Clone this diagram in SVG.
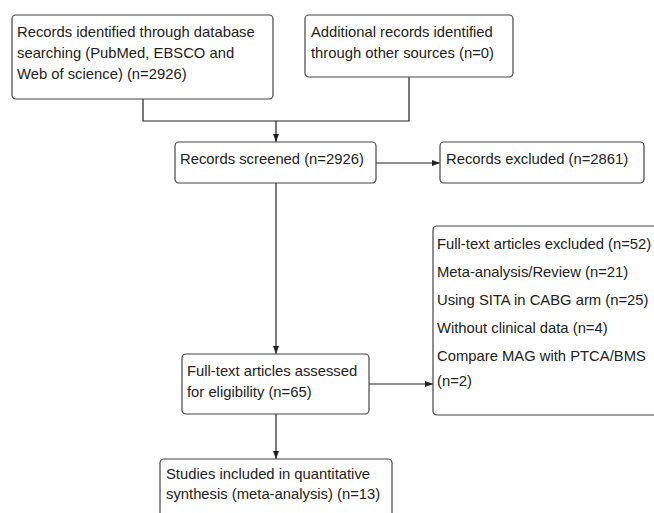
<svg xmlns="http://www.w3.org/2000/svg" width="654" height="513" viewBox="0 0 654 513">
<defs>
<marker id="ah" viewBox="0 0 8 8" refX="8" refY="4" markerWidth="8" markerHeight="8" markerUnits="userSpaceOnUse" orient="auto">
<path d="M0,1 L8,4 L0,7 Z" fill="#222"/>
</marker>
<style>
.box{fill:#fff;stroke:#444;stroke-width:1.2}
.t{font-family:"Liberation Sans",Arial,sans-serif;font-size:14.8px;fill:#222}
.c{fill:none;stroke:#222;stroke-width:1.2}
</style>
</defs>
<rect width="654" height="513" fill="#fff"/>
<g id="connectors">
<polyline class="c" points="143,99 143,121 409,121 409,77"/>
<line class="c" x1="276" y1="121" x2="276" y2="142" marker-end="url(#ah)"/>
<line class="c" x1="376" y1="163" x2="440" y2="163" marker-end="url(#ah)"/>
<line class="c" x1="276" y1="183" x2="276" y2="354" marker-end="url(#ah)"/>
<line class="c" x1="369" y1="384" x2="433" y2="384" marker-end="url(#ah)"/>
<line class="c" x1="276" y1="414" x2="276" y2="459" marker-end="url(#ah)"/>
</g>
<g id="n1">
<rect class="box" x="12" y="15" width="261" height="84" rx="4"/>
<text class="t" x="17" y="37">Records identified through database</text>
<text class="t" x="17" y="58">searching (PubMed, EBSCO and</text>
<text class="t" x="17" y="79">Web of science) (n=2926)</text>
</g>
<g id="n2">
<rect class="box" x="305" y="15" width="208" height="62" rx="4"/>
<text class="t" x="311" y="37">Additional records identified</text>
<text class="t" x="311" y="58">through other sources (n=0)</text>
</g>
<g id="n3">
<rect class="box" x="175" y="142" width="201" height="41" rx="4"/>
<text class="t" x="180" y="164">Records screened (n=2926)</text>
</g>
<g id="n4">
<rect class="box" x="440" y="142" width="204" height="41" rx="4"/>
<text class="t" x="446" y="164">Records excluded (n=2861)</text>
</g>
<g id="n5">
<rect class="box" x="182" y="354" width="187" height="60" rx="4"/>
<text class="t" x="187" y="376">Full-text articles assessed</text>
<text class="t" x="187" y="397">for eligibility (n=65)</text>
</g>
<g id="n6">
<rect class="box" x="433" y="226" width="240" height="189" rx="4"/>
<text class="t" x="437" y="249">Full-text articles excluded (n=52)</text>
<text class="t" x="437" y="277">Meta-analysis/Review (n=21)</text>
<text class="t" x="437" y="305">Using SITA in CABG arm (n=25)</text>
<text class="t" x="437" y="333">Without clinical data (n=4)</text>
<text class="t" x="437" y="361">Compare MAG with PTCA/BMS</text>
<text class="t" x="437" y="386">(n=2)</text>
</g>
<g id="n7">
<rect class="box" x="160" y="459" width="232" height="70" rx="4"/>
<text class="t" x="166" y="479">Studies included in quantitative</text>
<text class="t" x="166" y="499">synthesis (meta-analysis) (n=13)</text>
</g>
</svg>
